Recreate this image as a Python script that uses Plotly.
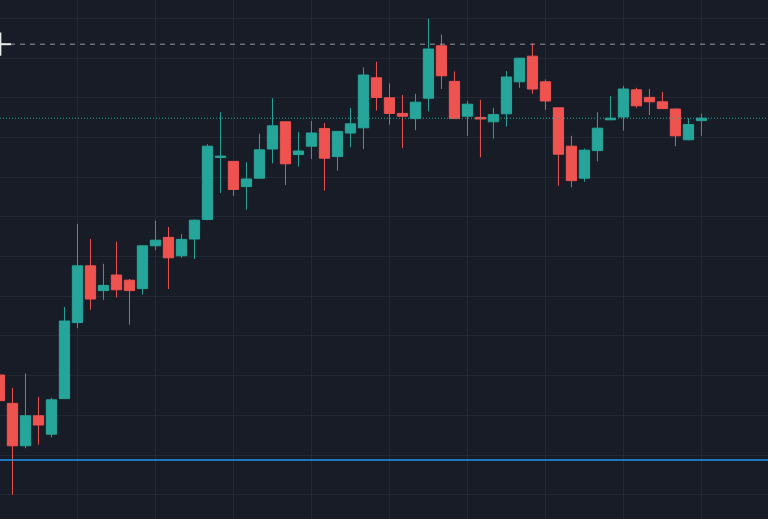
import plotly.graph_objects as go

# candle index (one per bar, left to right)
bars = list(range(55))

opens = [102.00, 101.29, 100.23, 100.98, 100.52, 101.41, 103.31, 104.73, 104.11, 104.50,
         104.37, 104.16, 105.23, 105.44, 104.98, 105.40, 105.89, 107.44, 107.34, 106.71,
         106.92, 107.65, 108.33, 107.51, 107.72, 108.16, 107.46, 108.05, 108.18, 109.43,
         108.93, 108.54, 108.41, 108.92, 110.23, 109.34, 108.47, 108.44, 108.33, 108.53,
         109.33, 109.97, 109.33, 108.68, 107.72, 106.92, 107.61, 108.38, 108.45, 109.13,
         108.94, 108.83, 108.65, 107.88, 108.36]
highs = [102.05, 101.68, 102.04, 101.45, 101.43, 103.70, 105.78, 105.40, 104.78, 105.33,
         104.40, 105.25, 105.86, 105.70, 105.52, 105.89, 107.77, 108.57, 107.35, 107.32,
         108.03, 108.92, 108.34, 108.08, 108.35, 108.30, 108.10, 108.68, 109.69, 109.83,
         109.29, 109.00, 109.03, 110.91, 110.51, 109.59, 108.85, 108.88, 108.68, 109.60,
         109.93, 110.29, 109.39, 108.69, 107.98, 107.66, 108.57, 108.97, 109.23, 109.18,
         109.15, 109.08, 108.66, 108.42, 108.53]
lows = [101.33, 99.01, 100.17, 100.26, 100.44, 101.40, 103.17, 103.63, 103.88, 103.94,
        103.26, 104.01, 105.12, 104.15, 104.93, 104.90, 105.87, 106.55, 106.48, 106.13,
        106.91, 107.29, 106.75, 107.21, 107.40, 106.61, 107.11, 107.69, 107.65, 108.61,
        108.26, 107.67, 108.12, 108.59, 109.15, 108.40, 107.98, 107.44, 107.91, 108.21,
        109.18, 109.03, 108.63, 106.73, 106.69, 106.83, 107.34, 108.37, 108.11, 108.68,
        108.50, 108.65, 107.72, 107.87, 107.98]
closes = [101.36, 100.23, 100.98, 100.75, 101.38, 103.35, 104.73, 103.90, 104.24, 104.13,
          104.11, 105.23, 105.37, 104.93, 105.39, 105.87, 107.72, 107.47, 106.64, 106.90,
          107.63, 108.23, 107.28, 107.60, 108.05, 107.42, 108.09, 108.28, 109.50, 108.94,
          108.54, 108.47, 108.82, 110.15, 109.48, 108.41, 108.77, 108.40, 108.51, 109.45,
          109.92, 109.15, 108.85, 107.52, 106.86, 107.62, 108.17, 108.42, 109.15, 108.73,
          108.83, 108.66, 107.98, 108.26, 108.42]

# horizontal drawings
dashed_level = 110.27
last_price = closes[-1]
blue_level = 99.875

UP = "#26a69a"
DOWN = "#ef5350"
BG = "#181c27"
GRID = "#242834"

fig = go.Figure(go.Candlestick(
    x=bars, open=opens, high=highs, low=lows, close=closes,
    increasing=dict(line=dict(color=UP, width=1), fillcolor=UP),
    decreasing=dict(line=dict(color=DOWN, width=1), fillcolor=DOWN),
    whiskerwidth=0,
    hoverinfo="skip",
    showlegend=False,
))

fig.add_hline(y=dashed_level, line=dict(color="#9598a1", width=1, dash="5px,5px"))
fig.add_hline(y=last_price, line=dict(color=UP, width=1, dash="1px,2px"))
fig.add_hline(y=blue_level, line=dict(color="#2196f3", width=1.6))

# little handle on the dashed line at the left edge
fig.add_shape(type="line", xref="paper", yref="y", x0=0, x1=11 / 768,
              y0=dashed_level, y1=dashed_level, line=dict(color="#e8e9ec", width=2))
fig.add_shape(type="line", xref="paper", yref="y", x0=0.6 / 768, x1=0.6 / 768,
              y0=dashed_level - 0.29, y1=dashed_level + 0.29,
              line=dict(color="#e8e9ec", width=1.5))

fig.update_layout(
    width=768, height=519,
    margin=dict(l=0, r=0, t=0, b=0),
    paper_bgcolor=BG, plot_bgcolor=BG,
    boxgap=0.21, boxgroupgap=0,
    showlegend=False,
    xaxis=dict(range=[0.04, 59.12], rangeslider=dict(visible=False),
               showticklabels=False, zeroline=False, showline=False,
               tick0=0, dtick=6, gridcolor=GRID, gridwidth=1),
    yaxis=dict(range=[98.4, 111.375], showticklabels=False, zeroline=False,
               showline=False, tick0=100, dtick=0.9925, gridcolor=GRID, gridwidth=1),
)

fig.write_html(
    "out.html",
    config={"displayModeBar": False},
    post_script="document.body.style.margin='0';document.body.style.overflow='hidden';"
                "document.body.style.background='" + BG + "';",
)
